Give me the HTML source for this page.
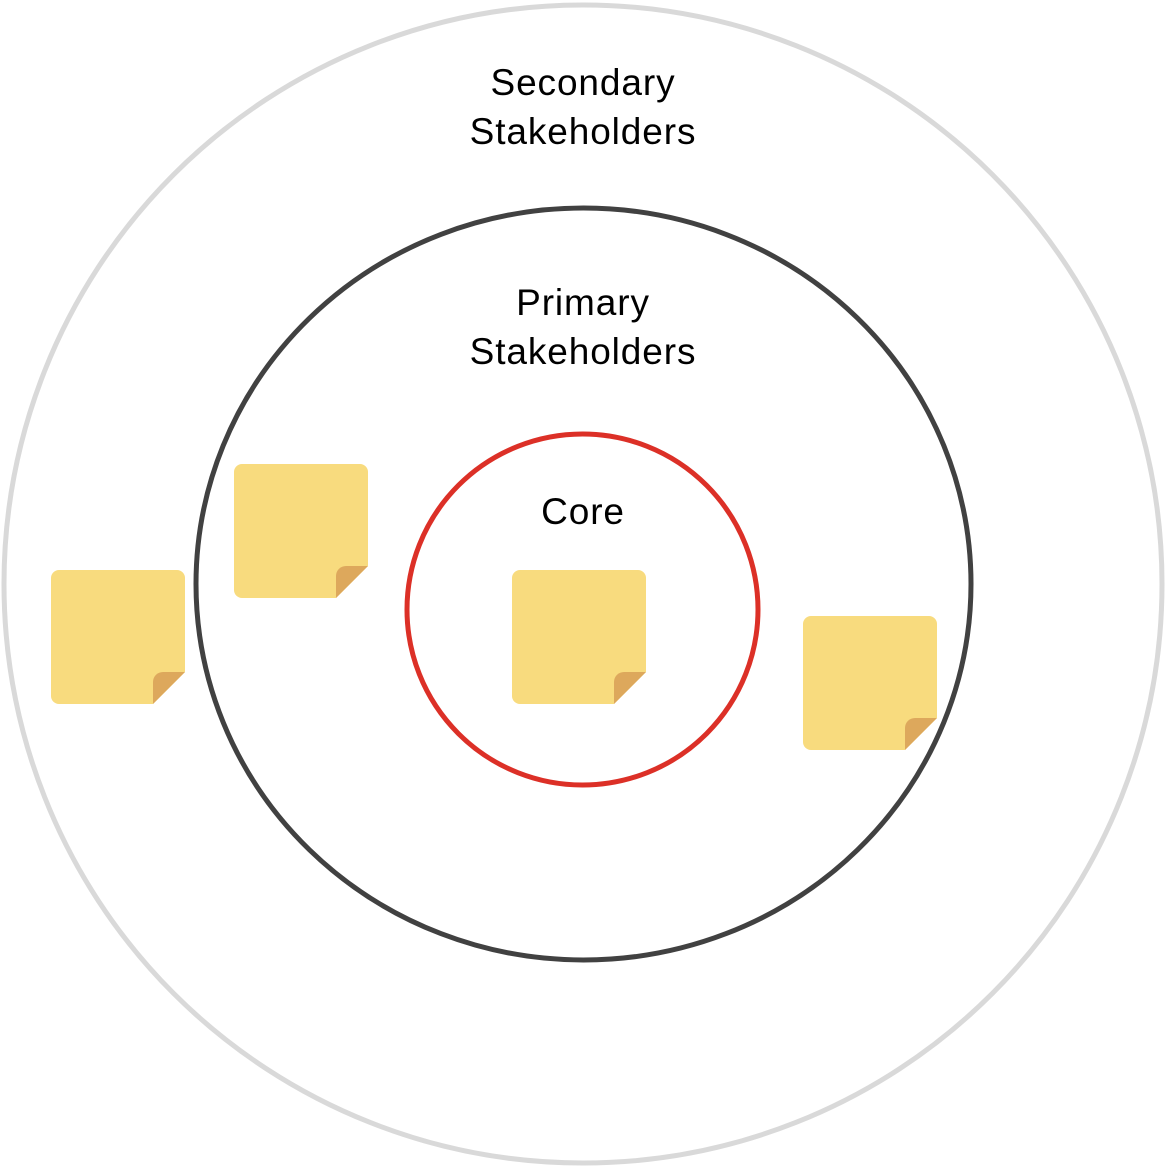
<!DOCTYPE html>
<html><head><style>body{margin:0;background:#fff}</style></head><body>
<svg width="1166" height="1168" xmlns="http://www.w3.org/2000/svg">
<defs>
<g id="n">
<path d="M8 0H126a8 8 0 0 1 8 8V102L102 134H8a8 8 0 0 1-8-8V8a8 8 0 0 1 8-8z" fill="#f8db7e"/>
<path d="M134 102L102 134V112a10 10 0 0 1 10-10z" fill="#dda85c"/>
</g>
</defs>
<ellipse cx="583" cy="584" rx="579" ry="579" fill="none" stroke="#d9d9d9" stroke-width="5"/>
<ellipse cx="583.5" cy="584" rx="387.5" ry="376" fill="none" stroke="#414141" stroke-width="5"/>
<circle cx="582.5" cy="609.5" r="175.5" fill="none" stroke="#dc3027" stroke-width="5"/>
<use href="#n" x="51" y="570"/>
<use href="#n" x="234" y="464"/>
<use href="#n" x="512" y="570"/>
<use href="#n" x="803" y="616"/>
<g font-family="Liberation Sans, sans-serif" font-size="37" letter-spacing="0.9" text-anchor="middle" fill="#000">
<text x="583" y="95">Secondary</text>
<text x="583" y="144">Stakeholders</text>
<text x="583" y="315">Primary</text>
<text x="583" y="364">Stakeholders</text>
<text x="583" y="524">Core</text>
</g>
</svg>
</body></html>
